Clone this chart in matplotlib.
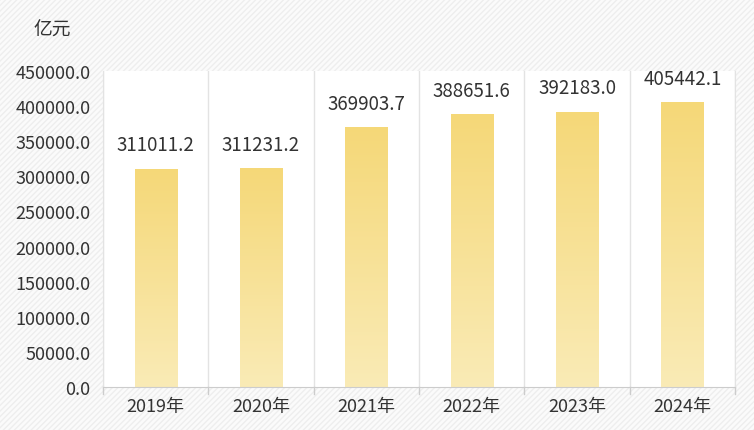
import numpy as np
import matplotlib.pyplot as plt
from matplotlib.patches import Rectangle
from matplotlib.colors import LinearSegmentedColormap

plt.rcParams['font.family'] = ['Noto Sans CJK SC', 'DejaVu Sans']

years = ['2019年', '2020年', '2021年', '2022年', '2023年', '2024年']
values = [311011.2, 311231.2, 369903.7, 388651.6, 392183.0, 405442.1]
yticks = [0, 50000, 100000, 150000, 200000, 250000, 300000, 350000, 400000, 450000]

fig = plt.figure(figsize=(7.54, 4.31), dpi=100)
fig.patch.set_facecolor('#fbfbfb')
# hatched background
bg = Rectangle((0, 0), 1, 1, transform=fig.transFigure, facecolor='#fbfbfb',
               edgecolor='#eeeeee', hatch='//////', linewidth=0, zorder=-10)
fig.patches.append(bg)

ax = fig.add_axes([103/754, 1-388/431, (735-103)/754, (388-72)/431])
ax.set_facecolor('white')

x = np.arange(len(years))
bars = ax.bar(x, values, width=0.4, color='none', zorder=2)

cmap = LinearSegmentedColormap.from_list('g', ['#faebb6', '#f5d878'])
grad = np.linspace(0, 1, 256).reshape(-1, 1)
for b in bars:
    x0, w, h = b.get_x(), b.get_width(), b.get_height()
    im = ax.imshow(grad, cmap=cmap, aspect='auto', origin='lower',
                   extent=[x0, x0 + w, 0, h], zorder=2)
    im.set_clip_path(b)

for xi, v in zip(x, values):
    ax.annotate('%.1f' % v, (xi, v), xytext=(0, 17), textcoords='offset points',
                ha='center', va='center', fontsize=13.5, color='#333333')

ax.set_xlim(-0.5, len(years) - 0.5)
ax.set_ylim(0, 450000)
ax.set_yticks(yticks)
ax.set_yticklabels(['%.1f' % t for t in yticks], fontsize=13, color='#333333')
ax.set_xticks(x)
ax.set_xticklabels(years, fontsize=13, color='#333333')
ax.tick_params(axis='y', length=0, pad=9)
ax.tick_params(axis='x', length=0, pad=7)

# category boundary grid lines and ticks
for b in np.arange(-0.5, len(years), 1):
    ax.axvline(b, color='#e3e3e3', lw=1, zorder=1)
    ax.plot([b, b], [0, -10000], color='#cccccc', lw=1, clip_on=False)

ax.spines['top'].set_visible(False)
for s in ['left', 'right']:
    ax.spines[s].set_color('#e3e3e3')
ax.spines['bottom'].set_color('#cccccc')

fig.text(52/754, 1-30/431, '亿元', ha='center', va='center', fontsize=13.5, color='#333333')

fig.savefig('out.png', dpi=100, facecolor=fig.get_facecolor())
